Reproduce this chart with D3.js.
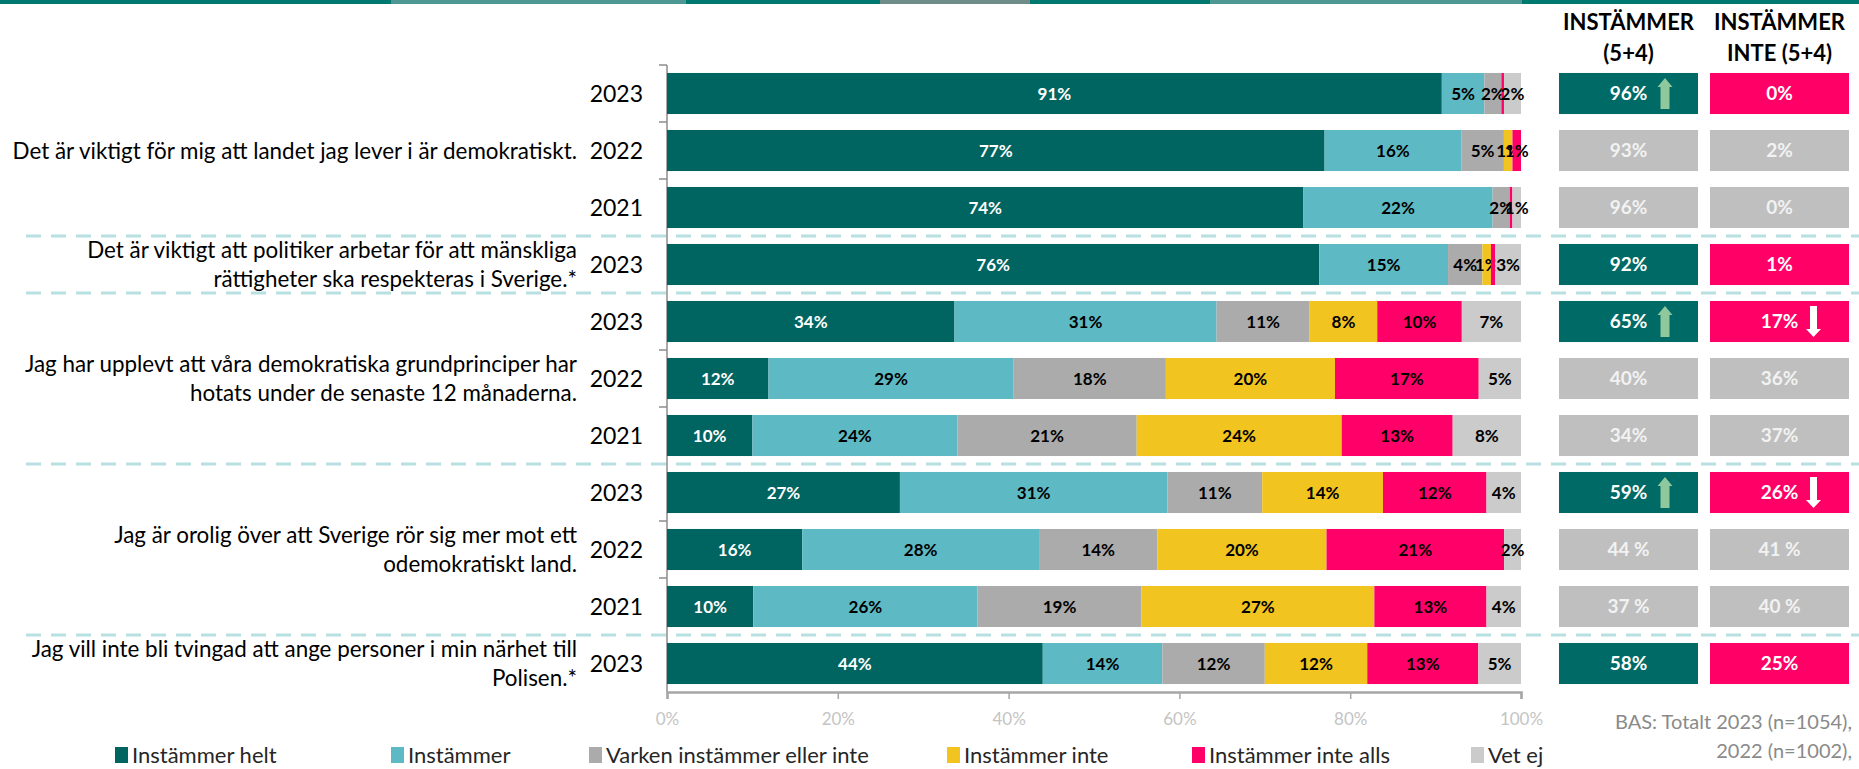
<!DOCTYPE html>
<html>
<head>
<meta charset="utf-8">
<script src="https://cdn.jsdelivr.net/npm/d3@7"></script>
<style>
  body { margin: 0; background: #fff; }
  svg { display: block; font-family: Lato, 'Open Sans', sans-serif; }
</style>
</head>
<body>
<script>
// rows, top to bottom
const rowYears = ['2023', '2022', '2021', '2023', '2023', '2022', '2021', '2023', '2022', '2021', '2023'];
const rowQuestion = [0, 0, 0, 1, 2, 2, 2, 3, 3, 3, 4];
const questionLines = [
  ['Det är viktigt för mig att landet jag lever i är demokratiskt.'],
  ['Det är viktigt att politiker arbetar för att mänskliga', 'rättigheter ska respekteras i Sverige.*'],
  ['Jag har upplevt att våra demokratiska grundprinciper har', 'hotats under de senaste 12 månaderna.'],
  ['Jag är orolig över att Sverige rör sig mer mot ett', 'odemokratiskt land.'],
  ['Jag vill inte bli tvingad att ange personer i min närhet till', 'Polisen.*']
];

const categories = ['Instämmer helt', 'Instämmer', 'Varken instämmer eller inte', 'Instämmer inte', 'Instämmer inte alls', 'Vet ej'];
const helt      = [91, 77, 74, 76, 34, 12, 10, 27, 16, 10, 44];
const instammer = [5, 16, 22, 15, 31, 29, 24, 31, 28, 26, 14];
const varken    = [2, 5, 2, 4, 11, 18, 21, 11, 14, 19, 12];
const inte      = [0, 1, 0, 1, 8, 20, 24, 14, 20, 27, 12];
const inteAlls  = [0.3, 1, 0.3, 0.5, 10, 17, 13, 12, 21, 13, 13];
const vetEj     = [2, 0, 1, 3, 7, 5, 8, 4, 2, 4, 5];

const agreeLabels    = ['96%', '93%', '96%', '92%', '65%', '40%', '34%', '59%', '44 %', '37 %', '58%'];
const disagreeLabels = ['0%', '2%', '0%', '1%', '17%', '36%', '37%', '26%', '41 %', '40 %', '25%'];
const highlighted    = [true, false, false, true, true, false, false, true, false, false, true];
const agreeTrend     = ['up', null, null, null, 'up', null, null, 'up', null, null, null];
const disagreeTrend  = [null, null, null, null, 'down', null, null, 'down', null, null, null];

const summaryHeaders = [['INSTÄMMER', '(5+4)'], ['INSTÄMMER', 'INTE (5+4)']];
const xTicks = [0, 0.2, 0.4, 0.6, 0.8, 1];
const baseNote = ['BAS: Totalt 2023 (n=1054),', '2022 (n=1002),', '2021 (n=1007)'];

const colors = ['#006461', '#5dbac4', '#ababab', '#f2c41f', '#ff0068', '#cbcbcb'];
const labelColors = ['#fff', '#000', '#000', '#000', '#000', '#000'];

const svgWidth = 1859;
const svgHeight = 769;

const svg = d3.select('body')
  .append('svg')
  .attr('width', svgWidth)
  .attr('height', svgHeight);

// top banner strip
svg.append('rect').attr('x', 0).attr('y', 0).attr('width', svgWidth).attr('height', 4).attr('fill', '#007a71');
svg.append('rect').attr('x', 391).attr('y', 0).attr('width', 295).attr('height', 4).attr('fill', '#4e9893');
svg.append('rect').attr('x', 880).attr('y', 0).attr('width', 150).attr('height', 4).attr('fill', '#6e8c88');
svg.append('rect').attr('x', 1210).attr('y', 0).attr('width', 312).attr('height', 4).attr('fill', '#4e9893');

const rows = d3.range(rowYears.length).map(i => ({
  i,
  [categories[0]]: helt[i],
  [categories[1]]: instammer[i],
  [categories[2]]: varken[i],
  [categories[3]]: inte[i],
  [categories[4]]: inteAlls[i],
  [categories[5]]: vetEj[i]
}));

const x = d3.scaleLinear().domain([0, 1]).range([667, 1521]);
const y = d3.scaleBand()
  .domain(d3.range(rowYears.length))
  .range([65, 692])
  .paddingInner(0.28)
  .paddingOuter(0.14);
const step = y.step();
const bw = y.bandwidth();

const stack = d3.stack().keys(categories).offset(d3.stackOffsetExpand);
const series = stack(rows);

// dashed separators between questions
const breaks = d3.range(1, rowYears.length).filter(i => rowQuestion[i] !== rowQuestion[i - 1]);
svg.append('g')
  .selectAll('line')
  .data(breaks)
  .enter()
  .append('line')
  .attr('x1', 26)
  .attr('x2', svgWidth)
  .attr('y1', i => y(i) - (step - bw) / 2)
  .attr('y2', i => y(i) - (step - bw) / 2)
  .attr('stroke', '#b9e0e1')
  .attr('stroke-width', 3)
  .attr('stroke-dasharray', '15,10');

// y axis line + category ticks
const yAxis = svg.append('g').attr('stroke', '#8c8c8c');
yAxis.append('line')
  .attr('x1', x(0)).attr('x2', x(0))
  .attr('y1', y.range()[0]).attr('y2', y.range()[1])
  .attr('stroke-width', 1.5);
yAxis.selectAll('.tick')
  .data(d3.range(rowYears.length).filter(i => !breaks.includes(i)))
  .enter()
  .append('line')
  .attr('class', 'tick')
  .attr('x1', x(0) - 8).attr('x2', x(0))
  .attr('y1', i => y(i) - (step - bw) / 2)
  .attr('y2', i => y(i) - (step - bw) / 2)
  .attr('stroke-width', 1.5);

// bars
const layer = svg.append('g')
  .selectAll('.layer')
  .data(series)
  .enter()
  .append('g')
  .attr('class', 'layer');

layer.selectAll('rect')
  .data(d => d)
  .enter()
  .append('rect')
  .attr('x', d => x(d[0]))
  .attr('y', d => y(d.data.i))
  .attr('width', d => Math.max(0, x(d[1]) - x(d[0])))
  .attr('height', bw)
  .attr('fill', (d, j, nodes) => colors[categories.indexOf(d3.select(nodes[j].parentNode).datum().key)]);

layer.each(function (s) {
  const k = categories.indexOf(s.key);
  d3.select(this).selectAll('text')
    .data(s.filter(d => d.data[s.key] >= 1))
    .enter()
    .append('text')
    .attr('x', d => (x(d[0]) + x(d[1])) / 2)
    .attr('y', d => y(d.data.i) + bw / 2)
    .attr('dy', '0.36em')
    .attr('text-anchor', 'middle')
    .attr('font-size', 17)
    .attr('font-weight', 700)
    .attr('fill', labelColors[k])
    .text(d => Math.round(d.data[s.key]) + '%');
});

// x axis
const xAxis = svg.append('g')
  .attr('transform', `translate(0, ${y.range()[1]})`)
  .call(d3.axisBottom(x).tickValues(xTicks).tickFormat(d3.format('.0%')).tickSize(7).tickPadding(14));
xAxis.select('.domain').attr('stroke', '#a6a6a6').attr('stroke-width', 2.5);
xAxis.selectAll('.tick line').attr('stroke', '#a6a6a6').attr('stroke-width', 1.5);
xAxis.selectAll('.tick text').attr('fill', '#c4c4c4').attr('font-size', 17).attr('font-family', 'Lato, sans-serif');

// year labels
svg.append('g')
  .selectAll('text')
  .data(rowYears)
  .enter()
  .append('text')
  .attr('x', 643)
  .attr('y', (d, i) => y(i) + bw / 2)
  .attr('dy', '0.36em')
  .attr('text-anchor', 'end')
  .attr('font-size', 23)
  .attr('fill', '#000')
  .text(d => d);

// question labels, centred on their group of rows
const questionText = svg.append('g')
  .selectAll('text')
  .data(questionLines)
  .enter()
  .append('text')
  .attr('text-anchor', 'end')
  .attr('font-size', 22.4)
  .attr('fill', '#000')
  .attr('transform', (lines, q) => {
    const idx = rowQuestion.map((r, i) => r === q ? i : -1).filter(i => i >= 0);
    const mid = (y(idx[0]) + y(idx[idx.length - 1]) + bw) / 2;
    return `translate(577, ${mid - (lines.length - 1) * 14.5})`;
  });
questionText.selectAll('tspan')
  .data(d => d)
  .enter()
  .append('tspan')
  .attr('x', 0)
  .attr('y', (d, j) => j * 29)
  .attr('dy', '0.36em')
  .text(d => d);

// summary columns
const col = d3.scaleBand().domain([0, 1]).range([1559, 1849]).paddingInner(0.0795);
const summaryLabels = [agreeLabels, disagreeLabels];
const summaryColors = ['#006b66', '#ff0066'];
const trends = [agreeTrend, disagreeTrend];

svg.append('g')
  .selectAll('text')
  .data(summaryHeaders)
  .enter()
  .append('text')
  .attr('text-anchor', 'middle')
  .attr('font-size', 22)
  .attr('font-weight', 700)
  .attr('fill', '#000')
  .attr('transform', (d, c) => `translate(${col(c) + col.bandwidth() / 2}, 30)`)
  .selectAll('tspan')
  .data(d => d)
  .enter()
  .append('tspan')
  .attr('x', 0)
  .attr('y', (d, j) => j * 31)
  .text(d => d);

[0, 1].forEach(c => {
  const g = svg.append('g');
  g.selectAll('rect')
    .data(summaryLabels[c])
    .enter()
    .append('rect')
    .attr('x', col(c))
    .attr('y', (d, i) => y(i))
    .attr('width', col.bandwidth())
    .attr('height', bw)
    .attr('fill', (d, i) => highlighted[i] ? summaryColors[c] : '#bfbfbf');

  g.selectAll('text')
    .data(summaryLabels[c])
    .enter()
    .append('text')
    .attr('x', col(c) + col.bandwidth() / 2)
    .attr('y', (d, i) => y(i) + bw / 2)
    .attr('dy', '0.36em')
    .attr('text-anchor', 'middle')
    .attr('font-size', 19)
    .attr('font-weight', 700)
    .attr('fill', (d, i) => highlighted[i] ? '#fff' : '#f2f2f2')
    .text(d => d);

  g.selectAll('path')
    .data(trends[c].map((t, i) => ({ t, i })).filter(d => d.t))
    .enter()
    .append('path')
    .attr('fill', d => d.t === 'up' ? '#8fc89c' : '#fff')
    .attr('d', d => {
      const top = y(d.i) + 5;
      const len = 31;
      if (d.t === 'up') {
        const cx = col(c) + 106;
        return `M${cx},${top} L${cx + 7.5},${top + 9} L${cx + 4.5},${top + 9} L${cx + 4.5},${top + len}` +
          ` L${cx - 4.5},${top + len} L${cx - 4.5},${top + 9} L${cx - 7.5},${top + 9} Z`;
      }
      const cx = col(c) + 103.5;
      return `M${cx - 3.5},${top} L${cx + 3.5},${top} L${cx + 3.5},${top + len - 8} L${cx + 7.5},${top + len - 8}` +
        ` L${cx},${top + len} L${cx - 7.5},${top + len - 8} L${cx - 3.5},${top + len - 8} Z`;
    });
});

// legend
const legendX = [115, 391, 589, 947, 1192, 1471];
const legend = svg.append('g')
  .selectAll('g')
  .data(categories)
  .enter()
  .append('g')
  .attr('transform', (d, k) => `translate(${legendX[k]}, 755)`);
legend.append('rect')
  .attr('x', 0).attr('y', -8)
  .attr('width', 13).attr('height', 16)
  .attr('fill', (d, k) => colors[k]);
legend.append('text')
  .attr('x', 17)
  .attr('dy', '0.36em')
  .attr('font-size', 22)
  .attr('fill', '#262626')
  .text(d => d);

// base note
svg.append('text')
  .attr('text-anchor', 'end')
  .attr('font-size', 20)
  .attr('fill', '#8a8a8a')
  .selectAll('tspan')
  .data(baseNote)
  .enter()
  .append('tspan')
  .attr('x', 1852)
  .attr('y', (d, j) => 729 + j * 29)
  .text(d => d);
</script>
</body>
</html>
